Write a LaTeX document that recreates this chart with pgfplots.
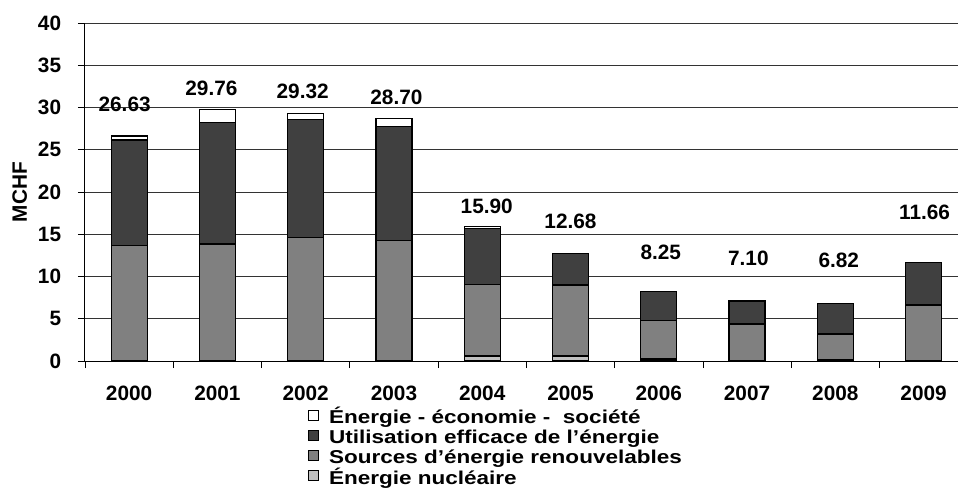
\documentclass[border=0pt]{standalone}
\usepackage{fontspec}
\setmainfont{Liberation Sans}
\newfontfamily\legfont{Liberation Sans}[FakeStretch=1.21]
\usepackage{pgfplots}
\usepackage{pgfplotstable}
\pgfplotsset{compat=1.18}
\newcommand\tickfont{\fontsize{20.8bp}{24bp}\selectfont\bfseries}
\pgfplotstableread{
x nuc ren eff soc lab off xo
0 0 13.65 12.50 0.48 26.63 34 -4.5
1 0 13.85 14.35 1.56 29.76 28.2 -6
2 0 14.64 13.96 0.72 29.32 25 -3
3 0 14.24 13.49 0.97 28.70 25.5 2.5
4 0.59 8.44 6.67 0.20 15.90 21.3 4.5
5 0.59 8.41 3.68 0.001 12.68 33 0
6 0.24 4.57 3.44 0.001 8.25 38.5 2
7 0 4.38 2.72 0.001 7.10 43 1.3
8 0.2 3.0 3.62 0.001 6.82 43.4 3.5
9 0 6.63 5.03 0.001 11.66 50 1
}\data
\definecolor{cnuc}{HTML}{C0C0C0}
\definecolor{cren}{HTML}{808080}
\definecolor{ceff}{HTML}{404040}
\begin{document}
\begin{tikzpicture}
\path[use as bounding box] (-85bp,-128bp) rectangle (873bp,361bp);
\begin{axis}[
 scale only axis, width=873bp, height=338bp,
 xmin=-0.5, xmax=9.39, ymin=0, ymax=40,
 ybar stacked, bar width=36bp,
 axis x line*=bottom, axis y line*=left,
 axis line style={black, line width=1bp, -},
 ytick={0,5,...,40}, ymajorgrids,
 major grid style={black!80, line width=0.8bp},
 xtick={-0.5,0.5,...,8.5}, xticklabels={},
 extra x ticks={0,...,9},
 extra x tick labels={2000,2001,2002,2003,2004,2005,2006,2007,2008,2009},
 extra x tick style={major tick length=0pt},
 tick align=outside, major tick length=7bp,
 tick style={black, line width=0.8bp},
 /pgf/number format/assume math mode=true,
 ticklabel style={font=\tickfont},
 yticklabel style={anchor=east, inner sep=0pt, xshift=-16.7bp},
 xticklabel style={anchor=base, inner sep=0pt, yshift=-39bp},
 ylabel={MCHF},
 ylabel style={at={(axis description cs:-0.0748,0.5)}, anchor=center, inner sep=0pt, font=\tickfont},
 legend style={at={(axis description cs:0.2558,-0.1435)}, anchor=north west, draw=none, fill=none,
   inner sep=0pt, outer sep=0pt, row sep=0pt, column sep=10bp,
   font=\legfont\bfseries\fontsize{18.6bp}{19.5bp}\selectfont,
   nodes={inner sep=0pt, text height=13.5bp, text depth=6bp}},
 legend cell align=left, reverse legend,
 legend image code/.code={\draw[#1, draw=black, line width=0.8bp] (0bp,0bp) rectangle (10bp,10bp);},
]
\addplot[fill=cnuc, draw=black, line width=1.2bp] table[x=x,y=nuc]{\data};
\addplot[fill=cren, draw=black, line width=1.2bp] table[x=x,y=ren]{\data};
\addplot[fill=ceff, draw=black, line width=1.2bp] table[x=x,y=eff]{\data};
\addplot[fill=white, draw=black, line width=1.2bp,
  nodes near coords, point meta=explicit symbolic,
  visualization depends on={\thisrow{off} \as \off},
  visualization depends on={\thisrow{xo} \as \xo},
  every node near coord/.append style={font=\tickfont, anchor=center, inner sep=0pt, yshift=\off bp, xshift=\xo bp, black}
 ] table[x=x,y=soc,meta=lab]{\data};
\legend{Énergie nucléaire, Sources d’énergie renouvelables, Utilisation efficace de l’énergie, Énergie - économie -\ \ société}
\end{axis}
\end{tikzpicture}
\end{document}
